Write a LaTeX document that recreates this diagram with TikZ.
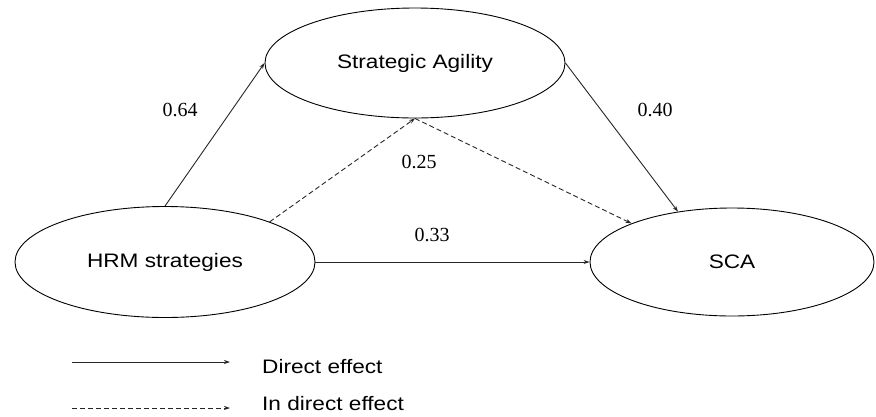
\documentclass[tikz,border=0pt]{standalone}
\usepackage{fontspec}
\setmainfont{Liberation Serif}
\newfontfamily\ovalfont{Liberation Sans}[FakeStretch=1.16]
\usetikzlibrary{shapes.geometric,arrows.meta}

\begin{document}
\begin{tikzpicture}[x=1pt,y=-1pt,
	construct/.style={draw,shape=ellipse,inner sep=0pt,line width=0.9pt,font=\ovalfont\fontsize{19.5}{22}\selectfont},
	effect/.style={-{Stealth[length=6pt,width=4pt]},line width=0.9pt,draw=black!85},
	indirect/.style={effect,dash pattern=on 5pt off 3pt},
	coef/.style={font=\fontsize{20}{22}\selectfont}]
	\useasboundingbox (0,0) rectangle (876,416);
	%\draw[help lines,step=50] (0,0) grid (876,416);
	\node[construct,minimum width=300pt,minimum height=110pt] (sa) at (415,63) {Strategic Agility};
	\node[construct,minimum width=300pt,minimum height=111pt] (hrm) at (165,262) {HRM strategies};
	\node[construct,minimum width=284pt,minimum height=108pt] (sca) at (732,262) {SCA};
	\draw[effect](hrm.north)--(sa.west);
	\draw[effect](sa.east)--(sca.137);
	\draw[effect](hrm.east)--(sca.west);
	\draw[indirect](hrm.21)--(sa.south);
	\draw[indirect](sa.south)--(sca.159);
	\node[coef] (c64) at (180,110) {0.64};
	\node[coef] (c40) at (655,110) {0.40};
	\node[coef] (c25) at (419,162) {0.25};
	\node[coef] (c33) at (432,235) {0.33};

	% legend
	\coordinate (d1) at (72,362);
	\coordinate (d2) at (230,362);
	\coordinate (i1) at (72,408);
	\coordinate (i2) at (230,408);
	\draw[effect](d1)--(d2);
	\draw[indirect](i1)--(i2);
	\node[anchor=west,inner sep=0pt,font=\ovalfont\fontsize{19.5}{22}\selectfont] (dtext) at (262,367) {Direct effect};
	\node[anchor=west,inner sep=0pt,font=\ovalfont\fontsize{19.5}{22}\selectfont] (itext) at (262,404) {In direct effect};
\end{tikzpicture}
\end{document}
